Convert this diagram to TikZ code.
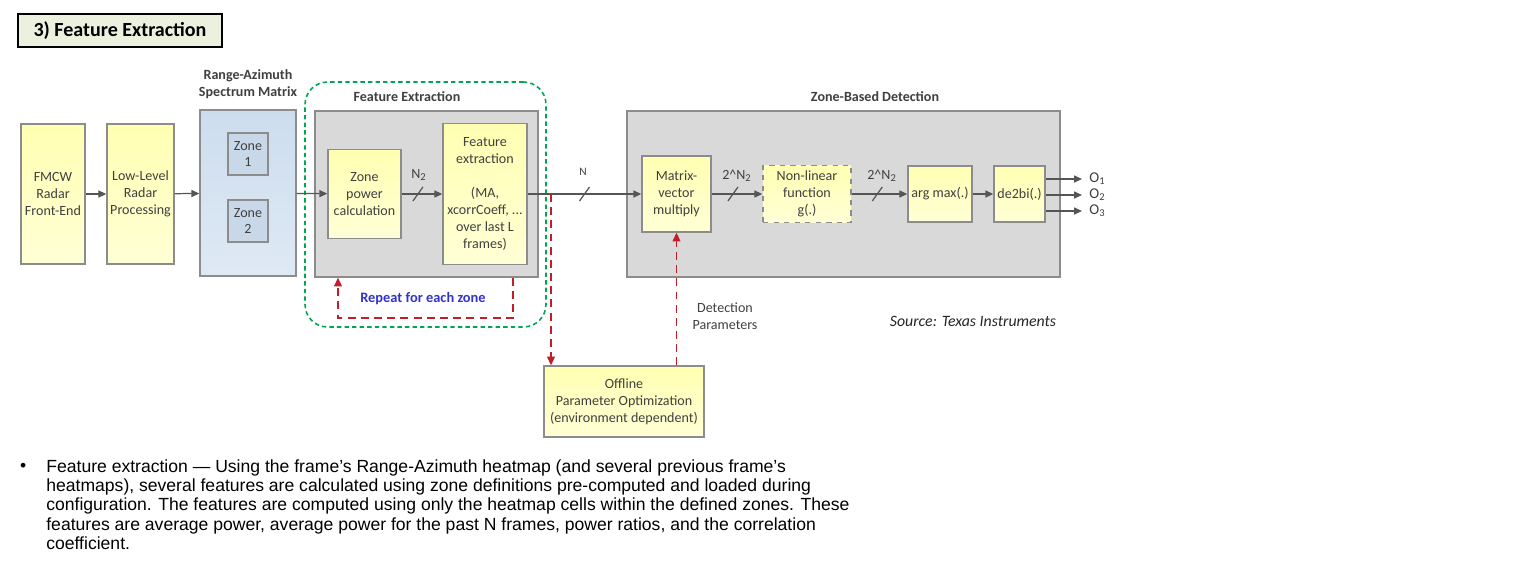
\documentclass[tikz,border=0pt]{standalone}
\usepackage{fontspec}
\setmainfont{Carlito}
\newfontfamily\arialfont{Liberation Sans}
\usetikzlibrary{arrows.meta,positioning}
\definecolor{edgegray}{RGB}{140,140,140}
\definecolor{linegray}{RGB}{85,85,85}
\definecolor{textgray}{RGB}{64,64,64}
\definecolor{panelgray}{RGB}{217,217,217}
\definecolor{yellowtop}{RGB}{255,255,178}
\definecolor{yellowbot}{RGB}{255,255,214}
\definecolor{bluetop}{RGB}{205,221,238}
\definecolor{bluebot}{RGB}{222,233,244}
\definecolor{zoneblue}{RGB}{200,216,232}
\definecolor{titlegreen}{RGB}{235,241,222}
\definecolor{loopgreen}{RGB}{0,166,80}
\definecolor{fbred}{RGB}{192,30,40}
\definecolor{repeatblue}{RGB}{51,51,204}
\newcommand{\diagfont}{\fontsize{8}{9.6}\selectfont}

\begin{document}
\begin{tikzpicture}[x=0.02cm,y=-0.02cm,
    block/.style={draw=edgegray,line width=0.8pt,top color=yellowtop,bottom color=yellowbot,
        align=center,text=textgray,font=\diagfont,inner sep=1pt},
    panel/.style={draw=edgegray,line width=0.8pt,fill=panelgray,inner sep=0pt},
    zonebox/.style={draw=edgegray,line width=0.8pt,fill=zoneblue,align=center,text=textgray,
        font=\diagfont,minimum width=0.8cm,minimum height=0.84cm,inner sep=0pt},
    sig/.style={draw=linegray,line width=0.7pt,-{Triangle[length=4.5pt,width=4pt]}},
    fb/.style={draw=fbred,line width=0.75pt,dash pattern=on 4.5pt off 3pt},
    lbl/.style={text=textgray,font=\diagfont,align=center,inner sep=0pt},
    head/.style={text=textgray,font=\diagfont\bfseries,align=center,inner sep=0pt},
    slash/.pic={\draw[-,linegray,line width=0.7pt] (-5,7) -- (5,-7);}]
    \fill[white](0,0)rectangle(1527,562);
    \useasboundingbox(0,0)rectangle(1527,562);
    % title
    \node[draw=black,line width=0.8pt,fill=titlegreen,minimum width=4.08cm,minimum height=0.66cm,
        font=\fontsize{11.4}{13}\selectfont\bfseries](title)at(120,30.5){3) Feature Extraction};
    % front end
    \node[block,minimum width=1.28cm,minimum height=2.8cm](fmcw)at(53,194){FMCW\\Radar\\Front-End};
    \node[block,minimum width=1.34cm,minimum height=2.8cm](llp)at(140.5,194){Low-Level\\Radar\\Processing};
    \node[draw=edgegray,line width=0.8pt,top color=bluetop,bottom color=bluebot,
        minimum width=1.92cm,minimum height=3.32cm](ram)at(248,193){};
    \node[head](ramlbl)at(248,84){Range-Azimuth\\Spectrum Matrix};
    \node[zonebox](zone1)at(248,154){Zone\\1};
    \node[zonebox](zone2)at(248,221){Zone\\2};
    % feature extraction
    \node[draw=loopgreen,line width=0.9pt,dash pattern=on 2.5pt off 1.8pt,rounded corners=0.45cm,
        minimum width=4.82cm,minimum height=4.9cm](loop)at(425.5,204.5){};
    \node[panel,minimum width=4.46cm,minimum height=3.32cm](fepanel)at(426.5,194){};
    \node[head](felbl)at(407,97){Feature Extraction};
    \node[block,minimum width=1.46cm,minimum height=1.78cm](zp)at(364.5,194){Zone\\power\\calculation};
    \node[block,minimum width=1.68cm,minimum height=2.82cm](fe)at(485,194)
        {Feature\\extraction\\[9.6pt](MA,\\xcorrCoeff, ...\\over last L\\frames)};
    \node[font=\bfseries\fontsize{8.2}{9}\selectfont,text=repeatblue](rep)at(423,299){Repeat for each zone};
    % zone-based detection
    \node[panel,minimum width=8.66cm,minimum height=3.32cm](zbd)at(843.5,194){};
    \node[head](zbdlbl)at(875,97){Zone-Based Detection};
    \node[block,minimum width=1.38cm,minimum height=1.52cm](mv)at(676.5,194){Matrix-\\vector\\multiply};
    \node[block,dashed,minimum width=1.76cm,minimum height=1.14cm](nl)at(807,194){Non-linear\\function\\g(.)};
    \node[block,minimum width=1.28cm,minimum height=1.12cm](am)at(940,194){arg max(.)};
    \node[block,minimum width=1.02cm,minimum height=1.12cm](db)at(1019.5,194){de2bi(.)};
    \coordinate(o1)at(1082,179);
    \coordinate(o2)at(1082,195);
    \coordinate(o3)at(1082,211);
    % offline optimization
    \node[block,minimum width=3.2cm,minimum height=1.42cm](off)at(624,401.5)
        {Offline\\Parameter Optimization\\(environment dependent)};
    \node[lbl](detlbl)at(725,316.5){Detection\\Parameters};
    \node[font=\itshape\fontsize{9}{10}\selectfont,text=black!85](src)at(973,321){Source: Texas Instruments};
    % signal path
    \draw[sig](fmcw)--(llp);
    \draw[sig](llp)--(ram);
    \draw[sig](ram)--(zp);
    \draw[sig](zp)--pic[pos=0.4]{slash}(fe);
    \node[lbl](n2)at(419,175){N\textsubscript{2}};
    \draw[sig](fe)--pic[pos=0.5]{slash}(mv);
    \node[lbl,font=\fontsize{6.5}{8}\selectfont](nlbl)at(583,172){N};
    \draw[sig](mv)--pic[pos=0.42]{slash}(nl);
    \node[lbl](p1)at(737,176){2\textasciicircum N\textsubscript{2}};
    \draw[sig](nl)--pic[pos=0.46]{slash}(am);
    \node[lbl](p2)at(882,176){2\textasciicircum N\textsubscript{2}};
    \draw[sig](am)--(db);
    \foreach \o/\k in {o1/1,o2/2,o3/3}{
        \draw[sig](db.east|-\o)--(\o);
        \node[lbl,anchor=west,font=\fontsize{8.5}{9}\selectfont](l\o)at([xshift=4pt]\o){O\textsubscript{\k}};
    }
    % feedback paths
    \coordinate(loopa)at(513,318);
    \coordinate(loopb)at(338,318);
    \coordinate(split)at(551,194);
    \draw[fb,-{Triangle[length=5pt,width=4.5pt]}](fepanel.south-|loopa)--(loopa)--(loopb)--(fepanel.south-|loopb);
    \draw[fb,-{Triangle[length=5pt,width=4.5pt]}](split)--(split|-off.north);
    \draw[fb,-{Triangle[length=5pt,width=4.5pt]}](off.north-|mv)--(mv.south);
    % description
    \node[anchor=west,font=\arialfont\fontsize{10}{11}\selectfont](bul)at(14,467){•};
    \node[anchor=north west,align=left,inner sep=0pt,font=\arialfont\fontsize{10}{11}\selectfont](desc)at(46,459)
        {Feature extraction — Using the frame’s Range-Azimuth heatmap (and several previous frame’s\\
        heatmaps), several features are calculated using zone definitions pre-computed and loaded during\\
        configuration. The features are computed using only the heatmap cells within the defined zones. These\\
        features are average power, average power for the past N frames, power ratios, and the correlation\\
        coefficient.};
\end{tikzpicture}
\end{document}
